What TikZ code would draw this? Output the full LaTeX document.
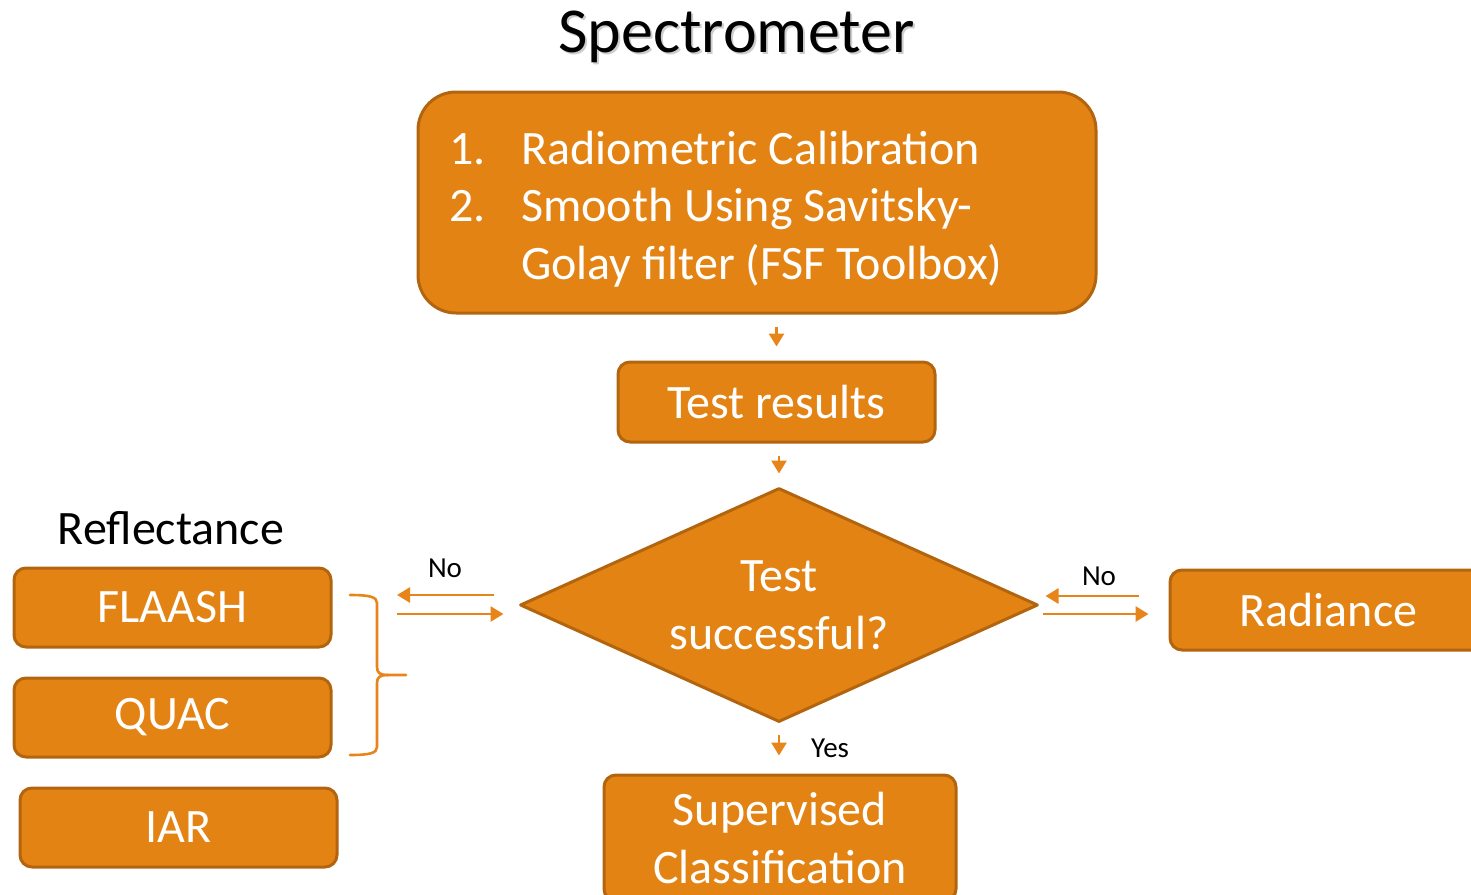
\documentclass[tikz,border=0pt]{standalone}
\usepackage{fontspec}
\setmainfont{Carlito}
\usetikzlibrary{shapes.geometric,arrows.meta}
\definecolor{boxfill}{RGB}{227,131,19}
\definecolor{boxline}{RGB}{178,101,14}
\definecolor{arrowc}{RGB}{232,133,26}
\definecolor{shadowc}{RGB}{205,205,205}
\begin{document}
\begin{tikzpicture}[x=1pt,y=-1pt,
  boxfont/.style={font=\fontsize{48}{58}\selectfont},
  box/.style={draw=boxline, line width=3pt, fill=boxfill, text=white,
    rounded corners=12pt, inner sep=0pt, boxfont, align=center,
    minimum width=317pt, minimum height=80pt},
  decision/.style={diamond, draw=boxline, line width=3pt, line join=round,
    fill=boxfill, text=white, inner sep=0pt, aspect=2.2, boxfont,
    align=center, minimum width=518pt, minimum height=234pt},
  arr/.style={draw=arrowc, line width=2.8pt,
    -{Triangle[length=13pt,width=15pt]}},
  bracec/.style={draw=arrowc, line width=2.6pt, line cap=round},
  small/.style={font=\fontsize{29}{34}\selectfont, text=black, inner sep=0pt},
]
\useasboundingbox (0,0) rectangle (1471,894);

% heading with its soft shadow
\node[font=\fontsize{64}{70}\selectfont, text=shadowc, inner sep=0pt, anchor=base]
  (titleshadow) at (738.5,54) {Spectrometer};
\node[font=\fontsize{64}{70}\selectfont, text=black, inner sep=0pt, anchor=base]
  (title) at (736.5,52) {Spectrometer};

% processing steps: rounded panel and its numbered list
% (the list is placed by the baseline of its last line)
\node[box, rounded corners=38pt, minimum width=678pt, minimum height=221pt]
  (calib) at (757,202.5) {};
\node[font=\fontsize{48}{57.5}\selectfont, text=white, inner sep=0pt,
  align=left, anchor=base west] (calibtext) at (449,279)
  {\makebox[72pt][l]{1.}Radiometric Calibration\\
   \makebox[72pt][l]{2.}Smooth Using Savitsky-\\
   \hspace*{72pt}Golay filter (FSF Toolbox)};

\node[box] (results) at (776.5,402) {Test results};
\node[decision] (dec) at (779,605) {Test\\successful?};
\node[box, minimum width=352pt, minimum height=126pt] (sup) at (780,838)
  {Supervised\\Classification};
\node[box] (rad) at (1328.5,610) {Radiance};

% reflectance products
\node[boxfont, text=black, inner sep=0pt, anchor=base] (refl) at (171,544) {Reflectance};
\node[box, minimum height=79pt] (flaash) at (172.5,607.5) {FLAASH};
\node[box, minimum height=79pt] (quac) at (172.5,717.5) {QUAC};
\node[box, minimum height=79pt] (iar) at (178.5,827.5) {IAR};

% brace grouping FLAASH and QUAC
\coordinate (bracetip) at (406,675);
\draw[bracec] (350,595) .. controls (370,595) and (377,597) .. (377,603)
  -- (377,667) .. controls (377,673) and (380,675) .. (388,675) -- (bracetip);
\draw[bracec] (388,675) .. controls (380,675) and (377,677) .. (377,683)
  -- (377,747) .. controls (377,753) and (370,755) .. (350,755);

% vertical flow
\draw[arr, shorten <=12pt, shorten >=14pt] (calib.south -| results.north) -- (results.north);
\draw[arr, shorten <=12pt, shorten >=13pt] (results.south -| dec.north) -- (dec.north);
\draw[arr, shorten <=11pt, shorten >=18pt] (dec.south) -- (dec.south |- sup.north);
\node[small, anchor=base west] (yes) at (811,757) {Yes};

% left exchange with reflectance
\coordinate (noleft) at (397,605);
\draw[arr, shorten <=25pt] ([yshift=10pt]dec.west) -- ([yshift=10pt]noleft);
\draw[arr, shorten >=15pt] ([yshift=-9pt]noleft) -- ([yshift=-9pt]dec.west);
\node[small, anchor=base] (noL) at (445,577) {No};

% right exchange with radiance
\draw[arr, shorten <=30pt, shorten >=6pt] ([yshift=9pt]dec.east -| rad.west) -- ([yshift=9pt]dec.east);
\draw[arr, shorten <=3pt, shorten >=20pt] ([yshift=-9pt]dec.east) -- ([yshift=-9pt]dec.east -| rad.west);
\node[small, anchor=base] (noR) at (1099,585) {No};
\end{tikzpicture}
\end{document}
